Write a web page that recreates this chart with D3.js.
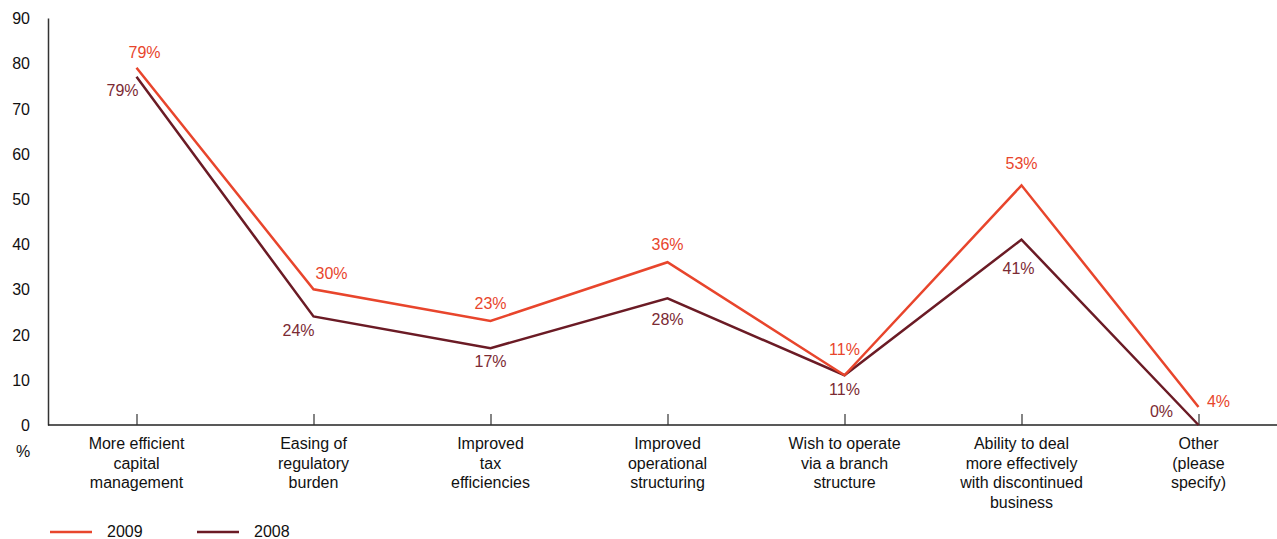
<!DOCTYPE html>
<html><head><meta charset="utf-8">
<script src="https://cdn.jsdelivr.net/npm/d3@7"></script>
<style>
body{margin:0;background:#fff;}
text{font-family:"Liberation Sans",Arial,Helvetica,sans-serif;}
</style></head>
<body><svg id="c" width="1277" height="539"></svg>
<script>
const categories = [
  ["More efficient","capital","management"],
  ["Easing of","regulatory","burden"],
  ["Improved","tax","efficiencies"],
  ["Improved","operational","structuring"],
  ["Wish to operate","via a branch","structure"],
  ["Ability to deal","more effectively","with discontinued","business"],
  ["Other","(please","specify)"]
];
const values2009 = [79, 30, 23, 36, 11, 53, 4];
const values2008 = [77, 24, 17, 28, 11, 41, 0];
const labels2009 = ["79%","30%","23%","36%","11%","53%","4%"];
const labels2008 = ["79%","24%","17%","28%","11%","41%","0%"];
const yTicks = [0,10,20,30,40,50,60,70,80,90];
const seriesNames = ["2009","2008"];

const colors = {"2009":"#e8452c","2008":"#6b1b25"};
const labelColors = {"2009":"#e8452c","2008":"#7b2a33"};
const FS = 16;

const svg = d3.select("#c");
const x = d3.scalePoint().domain(d3.range(categories.length)).range([48, 48+7*177]).padding(0.5);
const y = d3.scaleLinear().domain([0,90]).range([425,18]);

// y axis
const yAxis = d3.axisLeft(y).tickValues(yTicks).tickSize(0).tickPadding(18);
const gy = svg.append("g").attr("transform","translate(48,0)").call(yAxis);
gy.select(".domain").attr("stroke","#333").attr("stroke-width",1.5);
gy.selectAll("text").attr("font-size",FS).attr("fill","#111").attr("dy","0.35em")
  .attr("font-family","'Liberation Sans',Arial,sans-serif");

// x axis
svg.append("line").attr("x1",48).attr("x2",1277).attr("y1",y(0)).attr("y2",y(0)).attr("stroke","#222").attr("stroke-width",1.5);
const xAxis = d3.axisTop(x).tickSize(11).tickFormat("");
const gx = svg.append("g").attr("transform",`translate(0,${y(0)})`).call(xAxis);
gx.select(".domain").remove();
gx.selectAll("line").attr("stroke","#333").attr("stroke-width",1.2);

// category labels
categories.forEach((lines,i)=>{
  const t = svg.append("text").attr("text-anchor","middle").attr("font-size",FS).attr("fill","#111");
  lines.forEach((l,j)=>t.append("tspan").attr("x",x(i)).attr("y",449+j*19.5).text(l));
});
svg.append("text").attr("x",23).attr("y",457).attr("text-anchor","middle").attr("font-size",FS).attr("fill","#111").text("%");

// lines
const line = d3.line().x((d,i)=>x(i)).y(d=>y(d));
svg.append("path").datum(values2008).attr("d",line).attr("fill","none").attr("stroke",colors["2008"]).attr("stroke-width",2.5);
svg.append("path").datum(values2009).attr("d",line).attr("fill","none").attr("stroke",colors["2009"]).attr("stroke-width",2.5);

// label placement (layout offsets dx, dy relative to each point)
const off2009 = [[8,-10],[18,-10],[0,-12],[0,-12],[0,-20],[0,-16],[20,0]];
const off2008 = [[-14,19],[-15,20],[0,19],[0,27],[0,20],[-3,34],[-37,-8]];
function addLabels(vals,labs,offs,col){
  vals.forEach((v,i)=>{
    svg.append("text").attr("x",x(i)+offs[i][0]).attr("y",y(v)+offs[i][1])
      .attr("text-anchor","middle").attr("font-size",FS).attr("fill",col).text(labs[i]);
  });
}
addLabels(values2009,labels2009,off2009,labelColors["2009"]);
addLabels(values2008,labels2008,off2008,labelColors["2008"]);

// legend
const legX = [50,197];
seriesNames.forEach((s,i)=>{
  svg.append("line").attr("x1",legX[i]).attr("x2",legX[i]+42).attr("y1",532).attr("y2",532).attr("stroke",colors[s]).attr("stroke-width",2.5);
  svg.append("text").attr("x",legX[i]+57).attr("y",537).attr("font-size",FS).attr("fill","#111").text(s);
});
</script></body></html>
